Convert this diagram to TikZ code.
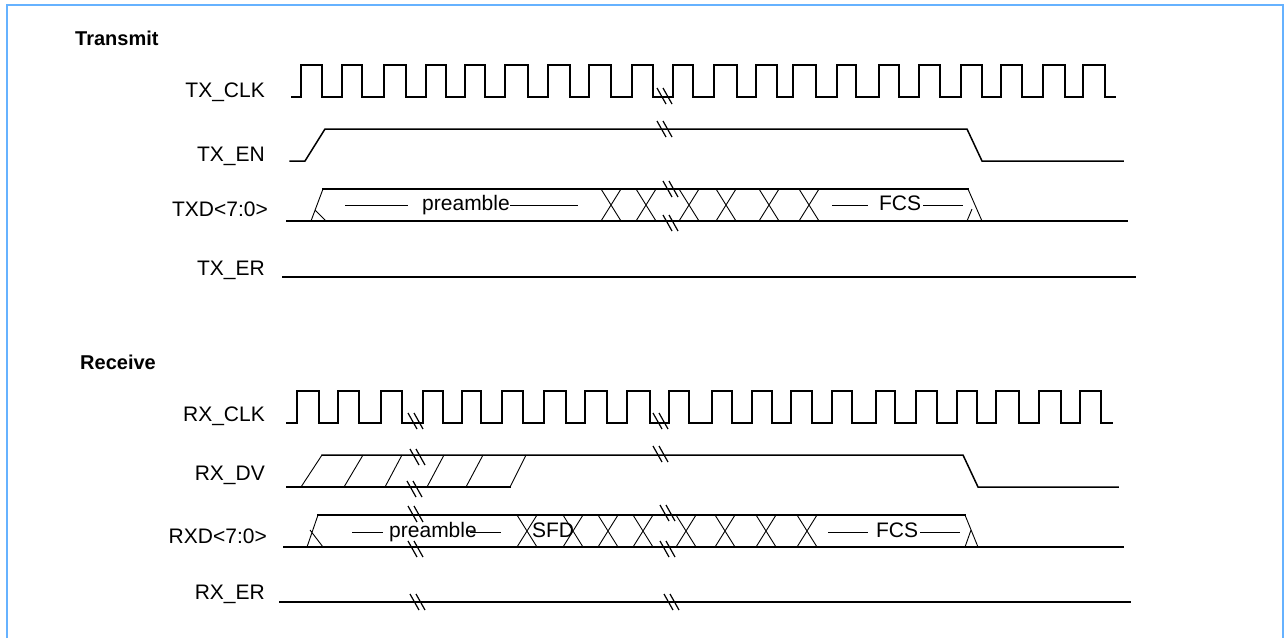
\documentclass[tikz,border=0pt]{standalone}
\usepackage{fontspec}
\setmainfont{Liberation Sans}
\definecolor{frameblue}{RGB}{102,178,255}
\newcommand\brkmk[2]{\draw[mk] (#1,#2) -- (#1+9,#2+16) (#1+6,#2) -- (#1+15,#2+16);}
\begin{document}
\begin{tikzpicture}[x=1pt,y=-1pt,
  sig/.style={line width=1.5pt, line join=miter, line cap=rect},
  thin/.style={line width=0.9pt},
  mk/.style={line width=1.2pt},
  lbl/.style={anchor=base east, font=\fontsize{21}{24}\selectfont, inner sep=0pt},
  hdr/.style={anchor=base west, font=\fontsize{20}{24}\selectfont\bfseries, inner sep=0pt},
  txt/.style={anchor=base, font=\fontsize{21}{24}\selectfont, inner sep=0pt}]
\useasboundingbox (0,0) rectangle (1286,638);
% frame
\draw[frameblue, line width=2pt] (7,638) -- (7,5) -- (1283,5) -- (1283,638);
% labels
\node[hdr] (tx) at (75,45) {Transmit};
\node[lbl] (txclk) at (265,97) {TX\_CLK};
\node[lbl] (txen) at (265,161) {TX\_EN};
\node[lbl] (txd) at (268,216) {TXD<7:0>};
\node[lbl] (txer) at (265,275) {TX\_ER};
\node[hdr] (rx) at (80,369) {Receive};
\node[lbl] (rxclk) at (265,421) {RX\_CLK};
\node[lbl] (rxdv) at (265,480) {RX\_DV};
\node[lbl] (rxd) at (267,543) {RXD<7:0>};
\node[lbl] (rxer) at (265,599) {RX\_ER};
% TX_CLK
\draw[sig] (292,97) \foreach \r/\f in {301/322,342/362,384/406,426/446,465/485,505/528,548/570,589/611,632/653,673/693,714/737,756/777,793/816,837/856,879/899,919/940,961/982,1001/1022,1043/1065,1083/1105} { -- (\r,97) -- (\r,65) -- (\f,65) -- (\f,97) } -- (1115,97);
\brkmk{657}{88}
% TX_EN
\draw[sig] (290,161) -- (305,161) -- (325,129) -- (967,129) -- (982,161) -- (1123,161);
\brkmk{657}{121}
% TXD
\draw[sig] (287,221) -- (1127,221);
\draw[sig] (323,189) -- (968,189);
\draw[thin] (311,221) -- (323,189) (315,210) -- (326,221);
\draw[thin] (968,189) -- (982,221) (967,221) -- (972,209);
\foreach \c in {611,646,689,726,769,809} \draw[thin] (\c-10,189) -- (\c+10,221) (\c-10,221) -- (\c+10,189);
\node[txt] (pre1) at (466,210) {preamble};
\draw[thin] (345,205) -- (408,205) (510,205) -- (578,205);
\node[txt] (fcs1) at (900,210) {FCS};
\draw[thin] (832,205) -- (868,205) (923,205) -- (963,205);
\brkmk{663}{181}
\brkmk{663}{215}
% TX_ER
\draw[sig] (283,277) -- (1135,277);
% RX_CLK
\draw[sig] (287,423) \foreach \r/\f in {297/319,338/359,381/402,423/443,462/481,502/523,544/566,585/607,627/650,669/689,712/732,752/772,791/812,832/852,876/895,916/937,957/977,996/1019,1039/1061,1080/1101} { -- (\r,423) -- (\r,391) -- (\f,391) -- (\f,423) } -- (1112,423);
\brkmk{408}{413}
\brkmk{653}{413}
% RX_DV
\draw[sig] (287,487) -- (510,487);
\draw[sig] (322,455) -- (963,455) -- (978,487) -- (1118,487);
\foreach \a/\b in {301/322,344/363,385/402,427/444,466/483,510/526} \draw[thin] (\a,487) -- (\b,455);
\brkmk{410}{449}
\brkmk{407}{481}
\brkmk{653}{446}
% RXD
\draw[sig] (284,547) -- (1123,547);
\draw[sig] (318,515) -- (965,515);
\draw[thin] (307,547) -- (318,515) (310,530) -- (323,547);
\draw[thin] (965,515) -- (978,547) (965,547) -- (971,530);
\foreach \c in {527,573,608,643,686,725,766,807} \draw[thin] (\c-10,515) -- (\c+10,547) (\c-10,547) -- (\c+10,515);
\node[txt] (pre2) at (433,537) {preamble};
\draw[thin] (352,532) -- (383,532) (470,532) -- (501,532);
\node[txt] (sfd) at (553,537) {SFD};
\node[txt] (fcs2) at (897,537) {FCS};
\draw[thin] (828,532) -- (868,532) (920,532) -- (960,532);
\brkmk{408}{506}
\brkmk{408}{541}
\brkmk{660}{505}
\brkmk{660}{541}
% RX_ER
\draw[sig] (280,602) -- (1130,602);
\brkmk{410}{594}
\brkmk{664}{594}
\end{tikzpicture}
\end{document}
